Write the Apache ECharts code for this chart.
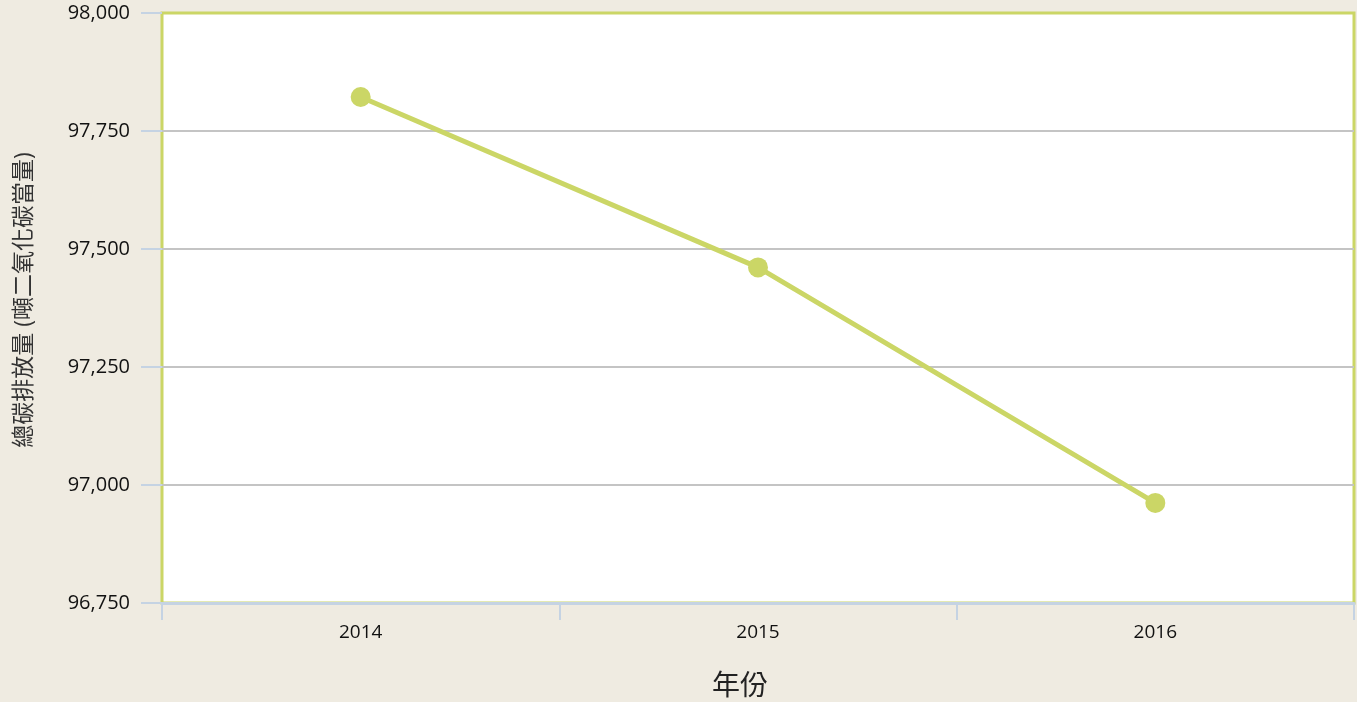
<!DOCTYPE html>
<html>
<head>
<meta charset="utf-8">
<script src="https://cdn.jsdelivr.net/npm/echarts@6/dist/echarts.min.js"></script>
<style>
  html, body { margin: 0; padding: 0; background: #efebe1; }
  #chart { width: 1357px; height: 702px; }
</style>
</head>
<body>
<div id="chart"></div>
<script>
// data
let years = ['2014', '2015', '2016'];
let emissions = [97822, 97461, 96962];

let chart = echarts.init(document.getElementById('chart'));

let green = '#cbd666';
let tickBlue = '#c5d3e3';
let labelFont = "'Open Sans', 'Noto Sans CJK TC', sans-serif";

let option = {
    backgroundColor: '#efebe1',
    animation: false,
    grid: {
        left: 162, right: 3, top: 13, bottom: 99,
        outerBoundsMode: 'none',
        containLabel: false,
        show: true,
        backgroundColor: '#ffffff',
        borderColor: green,
        borderWidth: 3
    },
    xAxis: {
        type: 'category',
        data: years,
        boundaryGap: true,
        name: '年份',
        nameLocation: 'middle',
        nameGap: 70,
        nameTextStyle: { fontSize: 28, color: '#222', fontFamily: labelFont, padding: [0, 36, 0, 0] },
        axisLine: { show: true, lineStyle: { color: tickBlue, width: 3 } },
        axisTick: { show: true, length: 17, lineStyle: { color: tickBlue, width: 2 } },
        axisLabel: { fontSize: 19, color: '#111', margin: 20, fontFamily: labelFont },
        splitLine: { show: false }
    },
    yAxis: {
        type: 'value',
        min: 96750,
        max: 98000,
        interval: 250,
        name: '總碳排放量 (噸二氧化碳當量)',
        nameLocation: 'middle',
        nameGap: 126,
        nameTextStyle: { fontSize: 23, color: '#333', fontFamily: labelFont, padding: [0, 0, 0, 16] },
        axisLine: { show: false },
        axisTick: { show: true, length: 21, lineStyle: { color: tickBlue, width: 2 } },
        axisLabel: {
            fontSize: 20, color: '#111', margin: 32, fontFamily: labelFont,
            formatter: function (v) { return v.toLocaleString('en-US'); }
        },
        splitLine: { show: true, showMaxLine: false, lineStyle: { color: '#c4c4c4', width: 2 } }
    },
    series: [{
        type: 'line',
        data: emissions,
        symbol: 'circle',
        symbolSize: 20,
        lineStyle: { color: green, width: 5 },
        itemStyle: { color: green }
    }]
};

chart.setOption(option);
</script>
</body>
</html>
